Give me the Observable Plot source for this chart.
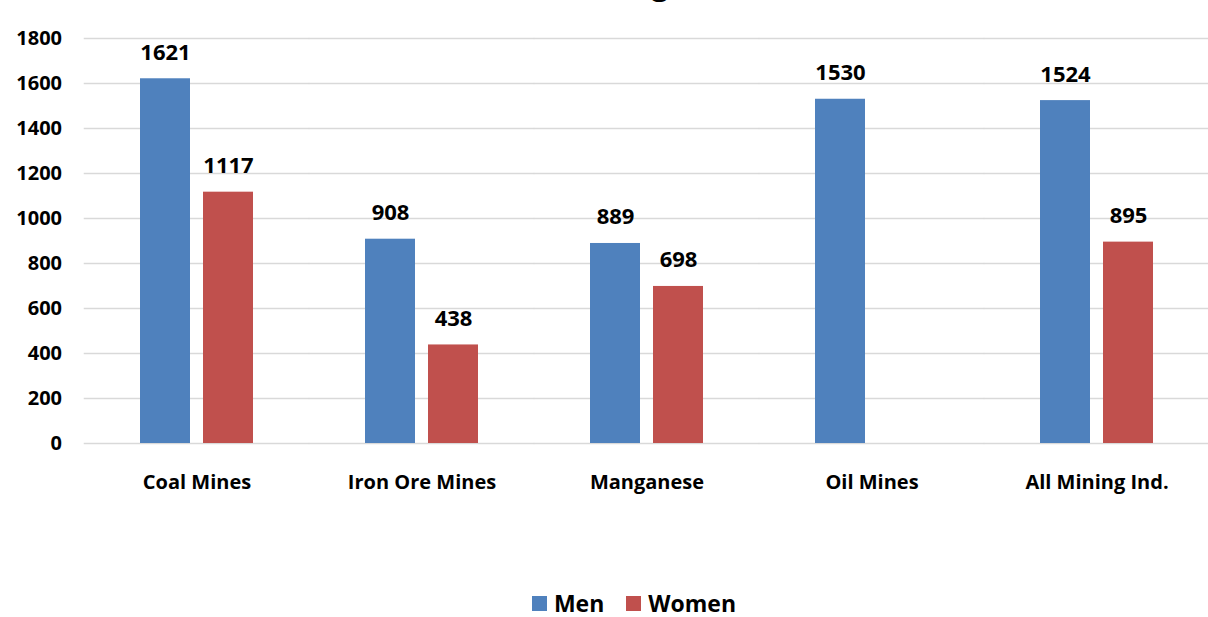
<!DOCTYPE html>
<html>
<head>
<meta charset="utf-8">
<script src="https://cdn.jsdelivr.net/npm/d3@7"></script>
<script src="https://cdn.jsdelivr.net/npm/@observablehq/plot@0.6"></script>
<style>
  html, body { margin: 0; padding: 0; background: #fff; }
  body { width: 1208px; height: 617px; position: relative; overflow: hidden; font-family: "Open Sans", sans-serif; }
  #title { position: absolute; z-index: 2; top: -31px; left: 13px; width: 1208px; text-align: center; font-size: 30px; line-height: 1; font-weight: bold; color: #000; }
  #legend { position: absolute; left: 30px; top: 587px; width: 1208px; display: flex; justify-content: center; align-items: center; gap: 22px; font-size: 23px; font-weight: bold; color: #000; }
  #legend .item { display: flex; align-items: center; gap: 7px; }
  #legend .sw { width: 15px; height: 15px; display: inline-block; }
  #chart { position: absolute; z-index: 1; left: 0; top: 0; }
</style>
</head>
<body>
<div id="title">Mining</div>
<div id="chart"></div>
<div id="legend"></div>
<script>
const categories = ["Coal Mines", "Iron Ore Mines", "Manganese", "Oil Mines", "All Mining Ind."];
const series = ["Men", "Women"];
const menValues = [1621, 908, 889, 1530, 1524];
const womenValues = [1117, 438, 698, null, 895];
const yTicks = [0, 200, 400, 600, 800, 1000, 1200, 1400, 1600, 1800];
const colors = ["#4f81bd", "#c0504d"];

const data = [];
categories.forEach((c, i) => {
  if (menValues[i] != null) data.push({cat: c, sex: "Men", value: menValues[i]});
  if (womenValues[i] != null) data.push({cat: c, sex: "Women", value: womenValues[i]});
});

const W = 1208, ML = 84, MR = 0;
const fxPadIn = 0.49, fxPadOut = 0.237;
const n = categories.length;
const step = (W - ML - MR) / (n - fxPadIn + 2 * fxPadOut);
const gapHalf = (step * fxPadIn) / 2;
const firstOffset = step * fxPadOut;

const chart = Plot.plot({
  width: W,
  height: 570,
  marginLeft: ML,
  marginRight: MR,
  marginTop: 38,
  marginBottom: 127,
  style: {fontFamily: "Open Sans, sans-serif", color: "#000", background: "#fff"},
  fx: {domain: categories, paddingInner: fxPadIn, paddingOuter: fxPadOut, label: null},
  x: {domain: series, paddingInner: 0.203, paddingOuter: 0, axis: null},
  y: {domain: [0, 1800], label: null},
  color: {domain: series, range: colors},
  marks: [
    Plot.ruleY(yTicks, {y: d => d, stroke: "#d9d9d9", strokeWidth: 1.3, insetLeft: -gapHalf, insetRight: -gapHalf}),
    Plot.barY(data, {fx: "cat", x: "sex", y: "value", fill: "sex"}),
    Plot.text(data, {fx: "cat", x: "sex", y: "value", text: d => String(d.value), lineAnchor: "bottom", dy: -19, fontSize: 22, fontWeight: "bold", fill: "#000"}),
    Plot.axisY({ticks: yTicks, tickSize: 0, tickPadding: 24 + firstOffset, fontSize: 20, fontWeight: "bold", label: null, tickFormat: d => String(d)}),
    Plot.axisFx({anchor: "bottom", tickSize: 0, tickPadding: 31, fontSize: 20, fontWeight: "bold", label: null})
  ]
});
document.getElementById("chart").appendChild(chart);

const legend = document.getElementById("legend");
series.forEach((s, i) => {
  const item = document.createElement("div");
  item.className = "item";
  const sw = document.createElement("span");
  sw.className = "sw";
  sw.style.background = colors[i];
  const t = document.createElement("span");
  t.textContent = s;
  item.appendChild(sw);
  item.appendChild(t);
  legend.appendChild(item);
});
</script>
</body>
</html>
